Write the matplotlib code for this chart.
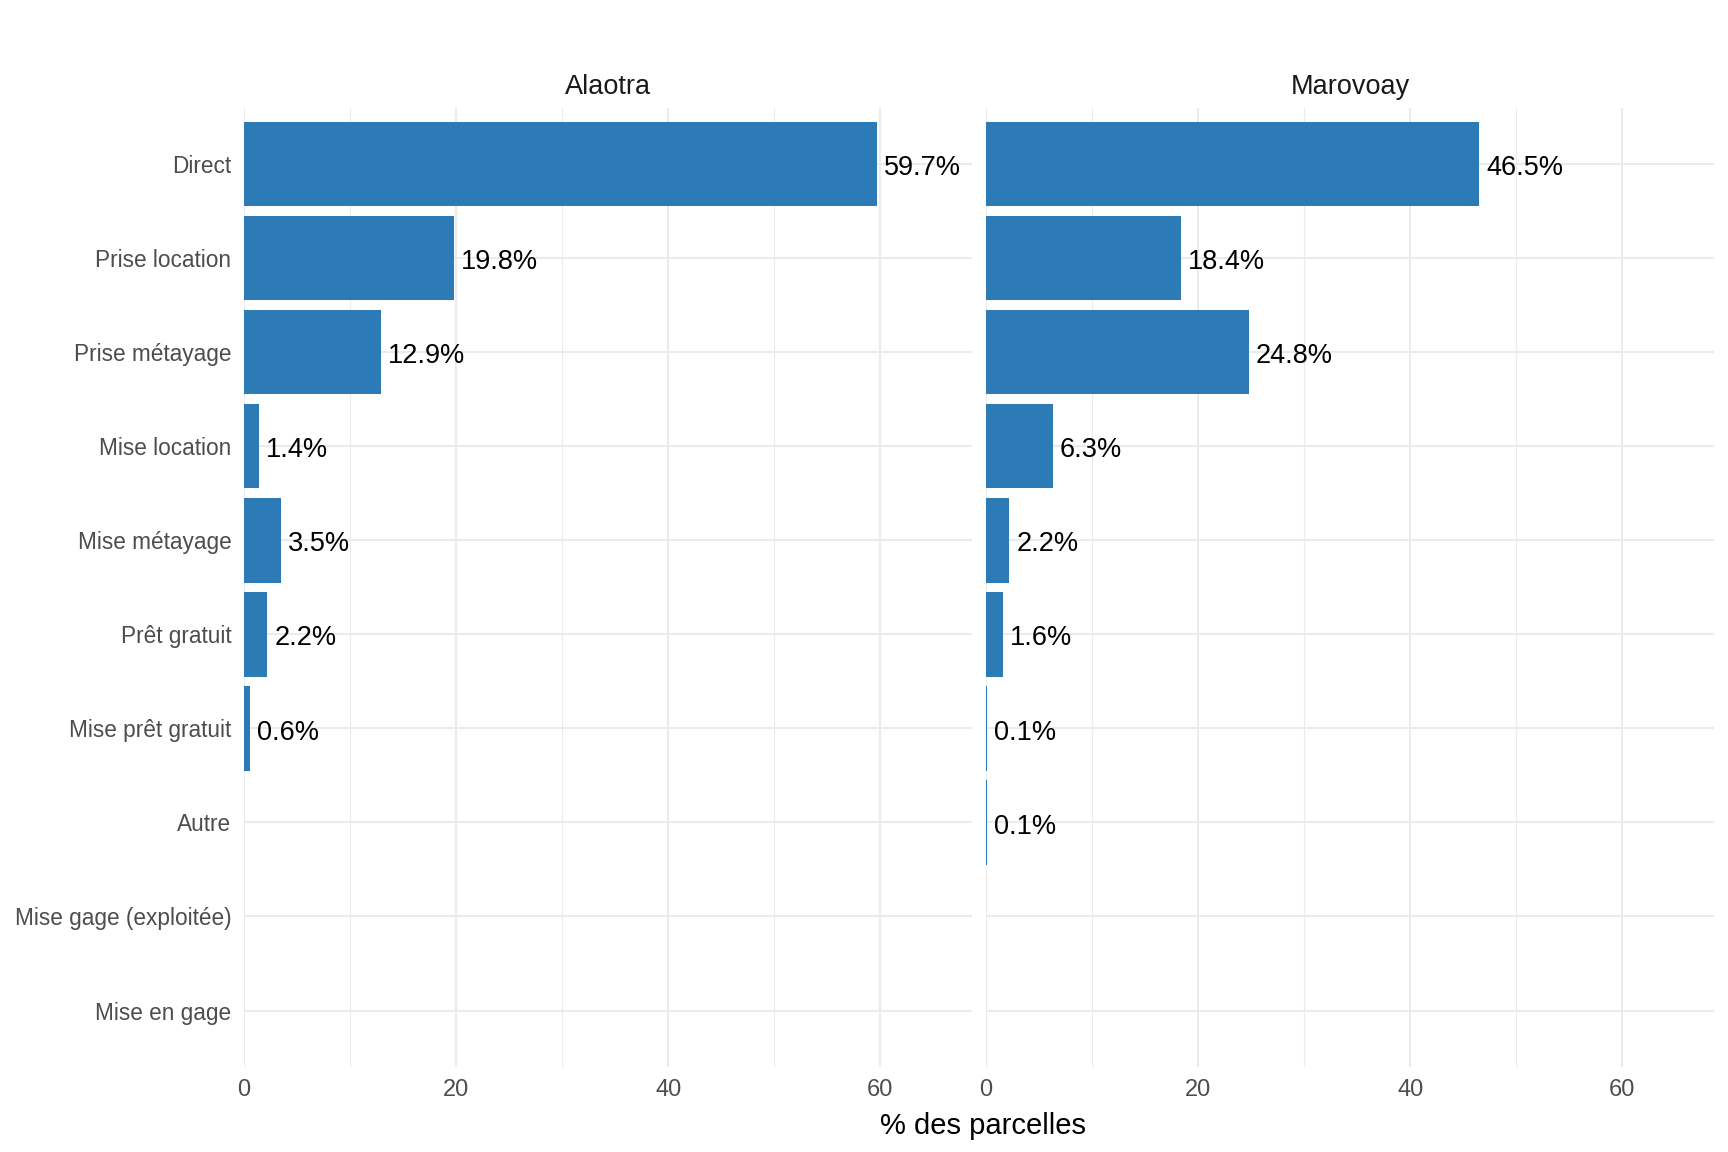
import numpy as np
import matplotlib
matplotlib.use("Agg")
import matplotlib.pyplot as plt

plt.rcParams['font.family'] = ['Liberation Sans', 'DejaVu Sans']

# Data
categories = ["Direct", "Prise location", "Prise métayage", "Mise location",
              "Mise métayage", "Prêt gratuit", "Mise prêt gratuit", "Autre",
              "Mise gage (exploitée)", "Mise en gage"]
regions = ["Alaotra", "Marovoay"]
alaotra = [59.7, 19.8, 12.9, 1.4, 3.5, 2.2, 0.6, np.nan, np.nan, np.nan]
marovoay = [46.5, 18.4, 24.8, 6.3, 2.2, 1.6, 0.1, 0.1, np.nan, np.nan]
values = [alaotra, marovoay]

bar_color = "#2C7BB6"
grid_color = "#EBEBEB"
W, H = 1728, 1152

fig = plt.figure(figsize=(W / 100, H / 100), dpi=100)

xmax = np.nanmax(alaotra + marovoay) * 1.15
y = np.arange(len(categories))

panel_lefts = [244, 986]
panel_w = 728
top, bottom = 107.5, 1067

for i, (region, vals) in enumerate(zip(regions, values)):
    ax = fig.add_axes([panel_lefts[i] / W, 1 - bottom / H, panel_w / W, (bottom - top) / H])
    vals = np.array(vals)
    mask = ~np.isnan(vals)
    ax.barh(y[mask], vals[mask], height=0.9, color=bar_color, zorder=2)
    for yy, v in zip(y[mask], vals[mask]):
        ax.annotate(f"{v:.1f}%", xy=(v, yy), xytext=(5, -3), textcoords="offset points",
                    ha="left", va="center", fontsize=19.5, color="black", zorder=3)
    ax.set_xlim(0, xmax)
    ax.set_ylim(len(categories) - 0.4, -0.6)
    ax.set_xticks([0, 20, 40, 60])
    ax.set_xticks([10, 30, 50], minor=True)
    ax.set_yticks(y)
    if i == 0:
        ax.set_yticklabels(categories)
    else:
        ax.set_yticklabels([])
    ax.grid(True, which="major", color=grid_color, linewidth=1.5, zorder=0)
    ax.grid(True, which="minor", axis="x", color=grid_color, linewidth=0.8, zorder=0)
    ax.set_axisbelow(True)
    for s in ax.spines.values():
        s.set_visible(False)
    ax.tick_params(which="both", length=0)
    ax.tick_params(axis="x", labelsize=17, labelcolor="#4D4D4D", pad=9)
    ax.tick_params(axis="y", labelsize=16.3, labelcolor="#4D4D4D", pad=9)
    ax.text(0.5, 1 + 7 / (bottom - top), region, transform=ax.transAxes,
            ha="center", va="bottom", fontsize=19.5, color="#1A1A1A")

fig.text(983 / W, 1 - 1126 / H, "% des parcelles", ha="center", va="center", fontsize=21)

fig.savefig("out.png", dpi=100, facecolor="white")
